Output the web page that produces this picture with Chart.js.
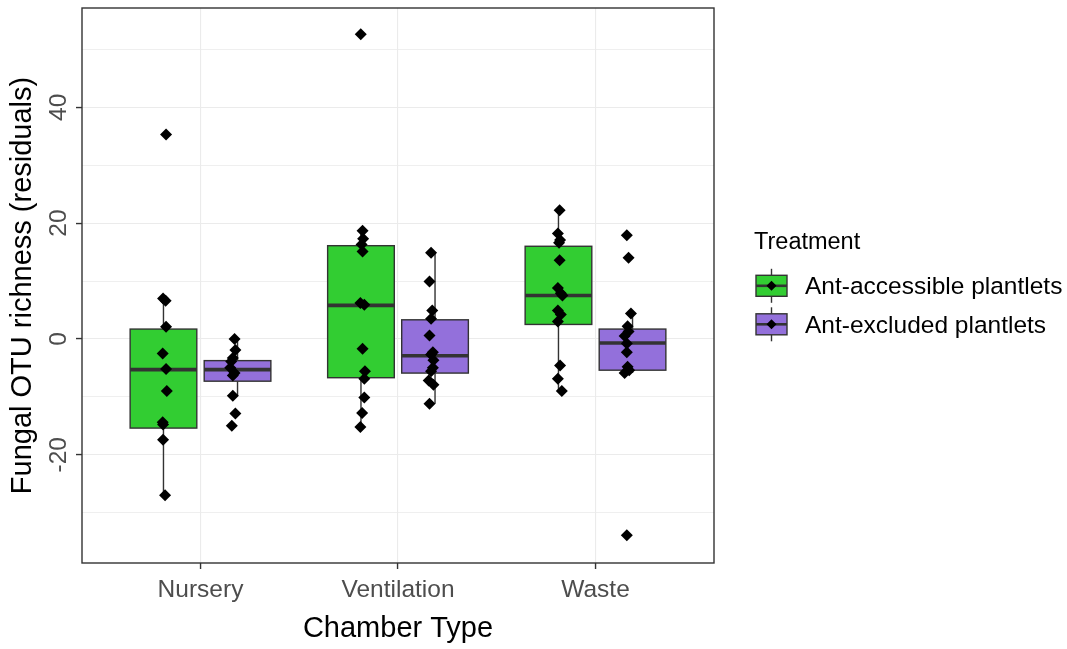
<!DOCTYPE html>
<html>
<head>
<meta charset="utf-8">
<script src="https://cdn.jsdelivr.net/npm/chart.js@4.4.1/dist/chart.umd.min.js"></script>
<style>
  html, body { margin: 0; padding: 0; background: #ffffff; }
</style>
</head>
<body>
<canvas id="otuChart" width="1067" height="649"></canvas>
<script>
// ---- data ----
const chambers = ['Nursery', 'Ventilation', 'Waste'];
const treatments = ['Ant-accessible plantlets', 'Ant-excluded plantlets'];
const fillColors = ['#32CD32', '#9370DB'];

// residual richness per sample
const nurseryAccessible = [35.3, 7.0, 6.6, 2.1, -2.5, -5.2, -9.0, -14.4, -14.8, -17.4, -27.0];
const nurseryExcluded = [0.0, -1.9, -3.3, -3.9, -5.0, -5.9, -6.3, -9.8, -12.9, -15.0];
const ventilationAccessible = [52.6, 18.7, 17.3, 16.3, 15.1, 6.2, 5.9, -1.7, -5.6, -6.9, -10.1, -12.8, -15.2];
const ventilationExcluded = [14.9, 9.9, 4.9, 3.5, 0.6, -2.3, -2.7, -3.7, -5.0, -5.6, -7.2, -7.9, -11.2];
const wasteAccessible = [22.2, 18.2, 17.1, 16.6, 13.6, 8.8, 7.9, 7.5, 4.9, 4.2, 3.0, -4.6, -6.9, -9.0];
const wasteExcluded = [17.9, 14.0, 4.4, 2.2, 1.3, 0.5, -0.8, -2.3, -4.8, -5.4, -5.9, -33.9];

// horizontal jitter of each point (category units, around its dodged box)
const nurseryAccessibleJitter = [0.013, -0.002, 0.011, 0.013, -0.004, 0.013, 0.017, -0.004, -0.002, -0.002, 0.008];
const nurseryExcludedJitter = [-0.015, -0.011, -0.024, -0.032, -0.037, -0.015, -0.024, -0.024, -0.011, -0.029];
const ventilationAccessibleJitter = [-0.001, 0.008, 0.011, 0.003, 0.008, -0.003, 0.017, 0.008, 0.020, 0.017, 0.017, 0.006, -0.003];
const ventilationExcludedJitter = [-0.020, -0.028, -0.014, -0.020, -0.028, -0.011, -0.020, -0.008, -0.011, -0.020, -0.032, -0.008, -0.028];
const wasteAccessibleJitter = [0.006, -0.003, 0.008, 0.003, 0.006, -0.003, 0.012, 0.020, -0.003, 0.012, -0.003, 0.008, -0.003, 0.017];
const wasteExcludedJitter = [-0.029, -0.020, -0.008, -0.025, -0.020, -0.040, -0.029, -0.029, -0.025, -0.017, -0.040, -0.029];

// box summaries per chamber (Nursery, Ventilation, Waste)
const accessibleLow = [-27.0, -15.2, -9.0];
const accessibleQ1 = [-15.4, -6.7, 2.5];
const accessibleMedian = [-5.3, 5.8, 7.5];
const accessibleQ3 = [1.7, 16.1, 16.0];
const accessibleHigh = [7.0, 18.7, 22.2];

const excludedLow = [-9.8, -11.2, -5.9];
const excludedQ1 = [-7.3, -5.9, -5.4];
const excludedMedian = [-5.3, -2.9, -0.7];
const excludedQ3 = [-3.75, 3.3, 1.7];
const excludedHigh = [0.05, 14.9, 4.4];

const yTickValues = [-20, 0, 20, 40];
const yTickLabels = ['-20', '0', '20', '40'];
const yMinorValues = [-30, -10, 10, 30, 50];

// ---- look ----
const FONT = '"Liberation Sans", Arial, sans-serif';
const TICK_SIZE = 24.5;
const LEGEND_TITLE_SIZE = 23.5;
const TITLE_SIZE = 29;
const DARK = '#333333';
const GRID = '#EBEBEB';
const DODGE = [-0.1875, 0.1875];
const BOX_W = 0.3375;

const samples = [
  [nurseryAccessible, ventilationAccessible, wasteAccessible],
  [nurseryExcluded, ventilationExcluded, wasteExcluded]
];
const jitters = [
  [nurseryAccessibleJitter, ventilationAccessibleJitter, wasteAccessibleJitter],
  [nurseryExcludedJitter, ventilationExcludedJitter, wasteExcludedJitter]
];
const boxStats = [
  { low: accessibleLow, q1: accessibleQ1, med: accessibleMedian, q3: accessibleQ3, high: accessibleHigh },
  { low: excludedLow, q1: excludedQ1, med: excludedMedian, q3: excludedQ3, high: excludedHigh }
];

// points: one scatter dataset per treatment
const datasets = treatments.map((name, t) => {
  const pts = [];
  chambers.forEach((c, i) => {
    samples[t][i].forEach((v, k) => {
      pts.push({ x: i + 1 + DODGE[t] + jitters[t][i][k], y: v });
    });
  });
  return {
    label: name,
    data: pts,
    pointStyle: 'rectRot',
    pointRadius: 6,
    pointBackgroundColor: '#000000',
    pointBorderWidth: 0,
    showLine: false
  };
});

// boxes and whiskers, under the points
const boxPlugin = {
  id: 'boxes',
  beforeDatasetsDraw(chart) {
    const { ctx, chartArea, scales: { x, y } } = chart;
    ctx.save();
    ctx.beginPath();
    ctx.rect(chartArea.left, chartArea.top, chartArea.right - chartArea.left, chartArea.bottom - chartArea.top);
    ctx.clip();
    boxStats.forEach((b, t) => {
      chambers.forEach((c, i) => {
        const cx = i + 1 + DODGE[t];
        const xl = x.getPixelForValue(cx - BOX_W / 2);
        const xr = x.getPixelForValue(cx + BOX_W / 2);
        const xc = x.getPixelForValue(cx);
        const yq1 = y.getPixelForValue(b.q1[i]);
        const yq3 = y.getPixelForValue(b.q3[i]);

        ctx.strokeStyle = DARK;
        ctx.lineWidth = 1.4;
        ctx.beginPath();
        ctx.moveTo(xc, y.getPixelForValue(b.high[i]));
        ctx.lineTo(xc, yq3);
        ctx.moveTo(xc, yq1);
        ctx.lineTo(xc, y.getPixelForValue(b.low[i]));
        ctx.stroke();

        ctx.fillStyle = fillColors[t];
        ctx.fillRect(xl, yq3, xr - xl, yq1 - yq3);
        ctx.strokeRect(xl, yq3, xr - xl, yq1 - yq3);

        const ym = y.getPixelForValue(b.med[i]);
        ctx.lineWidth = 3.6;
        ctx.beginPath();
        ctx.moveTo(xl, ym);
        ctx.lineTo(xr, ym);
        ctx.stroke();
      });
    });
    ctx.restore();
  }
};

// panel frame, rotated y tick labels and the legend
const decorPlugin = {
  id: 'decor',
  afterDraw(chart) {
    const { ctx, chartArea, scales: { y } } = chart;
    ctx.save();
    ctx.strokeStyle = DARK;
    ctx.lineWidth = 1.4;
    ctx.strokeRect(chartArea.left, chartArea.top, chartArea.right - chartArea.left, chartArea.bottom - chartArea.top);

    ctx.fillStyle = '#4D4D4D';
    ctx.font = `${TICK_SIZE}px ${FONT}`;
    ctx.textAlign = 'center';
    ctx.textBaseline = 'middle';
    yTickValues.forEach((v, i) => {
      ctx.save();
      ctx.translate(chartArea.left - 22.5, y.getPixelForValue(v));
      ctx.rotate(-Math.PI / 2);
      ctx.fillText(yTickLabels[i], 0, 0);
      ctx.restore();
    });

    // legend
    const lx = 756, keyW = 31;
    ctx.fillStyle = '#000000';
    ctx.textAlign = 'left';
    ctx.font = `${LEGEND_TITLE_SIZE}px ${FONT}`;
    ctx.fillText('Treatment', 754, 243);
    ctx.font = `${TICK_SIZE}px ${FONT}`;
    treatments.forEach((name, t) => {
      const cy = 285.8 + t * 38.5;
      const xc = lx + keyW / 2;
      ctx.strokeStyle = DARK;
      ctx.lineWidth = 1.4;
      ctx.beginPath();
      ctx.moveTo(xc, cy - 17);
      ctx.lineTo(xc, cy + 17);
      ctx.stroke();
      ctx.fillStyle = fillColors[t];
      ctx.fillRect(lx, cy - 10.5, keyW, 21);
      ctx.strokeRect(lx, cy - 10.5, keyW, 21);
      ctx.lineWidth = 2.6;
      ctx.beginPath();
      ctx.moveTo(lx, cy);
      ctx.lineTo(lx + keyW, cy);
      ctx.stroke();
      ctx.fillStyle = '#000000';
      ctx.beginPath();
      ctx.moveTo(xc, cy - 5);
      ctx.lineTo(xc + 5, cy);
      ctx.lineTo(xc, cy + 5);
      ctx.lineTo(xc - 5, cy);
      ctx.closePath();
      ctx.fill();
      ctx.fillText(name, 805, cy + 1.5);
    });
    ctx.restore();
  }
};

const isMajorY = v => yTickValues.includes(v);

new Chart(document.getElementById('otuChart'), {
  type: 'scatter',
  data: { datasets },
  options: {
    responsive: false,
    animation: false,
    devicePixelRatio: 1,
    layout: { padding: { top: 8, right: 353, bottom: 0, left: 0 } },
    plugins: {
      legend: { display: false },
      tooltip: { enabled: false }
    },
    scales: {
      x: {
        type: 'linear',
        min: 0.4,
        max: 3.6,
        afterBuildTicks: s => { s.ticks = chambers.map((c, i) => ({ value: i + 1 })); },
        afterFit: s => { s.height = 86; },
        ticks: {
          callback: (v, i) => chambers[i],
          color: '#4D4D4D',
          font: { family: FONT, size: TICK_SIZE },
          padding: 7,
          maxRotation: 0,
          autoSkip: false
        },
        grid: { color: GRID, lineWidth: 1.1, tickLength: 6, tickColor: DARK, tickWidth: 1.4 },
        border: { display: false },
        title: {
          display: true,
          text: 'Chamber Type',
          color: '#000000',
          font: { family: FONT, size: TITLE_SIZE },
          padding: { top: 0, bottom: 3 }
        }
      },
      y: {
        type: 'linear',
        min: -38.7,
        max: 57.15,
        afterBuildTicks: s => {
          s.ticks = yTickValues.concat(yMinorValues).sort((a, b) => a - b).map(v => ({ value: v }));
        },
        afterFit: s => { s.width = 82; },
        ticks: { display: false },
        grid: {
          color: GRID,
          lineWidth: c => (c.tick && isMajorY(c.tick.value) ? 1.1 : 0.8),
          tickLength: 6,
          tickWidth: 1.4,
          tickColor: c => (c.tick && isMajorY(c.tick.value) ? DARK : 'rgba(0,0,0,0)')
        },
        border: { display: false },
        title: {
          display: true,
          text: 'Fungal OTU richness (residuals)',
          color: '#000000',
          font: { family: FONT, size: TITLE_SIZE },
          padding: { top: 6, bottom: 0 }
        }
      }
    }
  },
  plugins: [boxPlugin, decorPlugin]
});
</script>
</body>
</html>
